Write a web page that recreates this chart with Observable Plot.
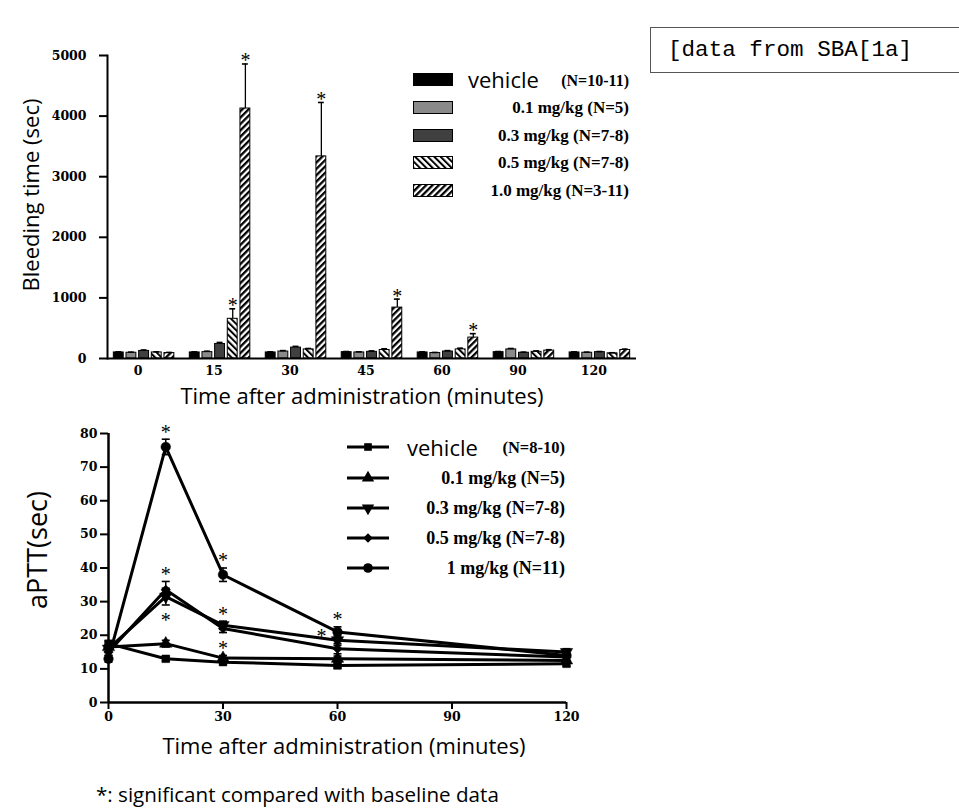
<!DOCTYPE html>
<html>
<head>
<meta charset="utf-8">
<script src="https://cdn.jsdelivr.net/npm/d3@7"></script>
<script src="https://cdn.jsdelivr.net/npm/@observablehq/plot@0.6"></script>
<style>
  body { margin: 0; background: #fff; }
  #page { position: relative; width: 959px; height: 812px; overflow: hidden; background: #fff; }
  .abs { position: absolute; white-space: nowrap; line-height: 1; color: #000; }
  .sans { font-family: "Open Sans", sans-serif; }
  .serifb { font-family: "Liberation Serif", serif; font-weight: bold; }
  .row { position: absolute; display: flex; align-items: center; height: 24px; }
  .row .sp { flex: 1; }
  svg.plot { position: absolute; left: 0; }
</style>
</head>
<body>
<svg width="0" height="0" style="position:absolute">
  <defs>
    <pattern id="hatch05" patternUnits="userSpaceOnUse" width="4.5" height="4.5" patternTransform="rotate(-45)">
      <rect width="4.5" height="4.5" fill="#fff"></rect>
      <rect width="2" height="4.5" fill="#000"></rect>
    </pattern>
    <pattern id="hatch10" patternUnits="userSpaceOnUse" width="4.5" height="4.5" patternTransform="rotate(45)">
      <rect width="4.5" height="4.5" fill="#fff"></rect>
      <rect width="2.3" height="4.5" fill="#000"></rect>
    </pattern>
  </defs>
</svg>
<div id="page"></div>
<script>
// ---------- Top chart: bleeding time ----------
const times = ["0", "15", "30", "45", "60", "90", "120"];
const seriesTop = ["vehicle", "0.1 mg/kg", "0.3 mg/kg", "0.5 mg/kg", "1.0 mg/kg"];
const topLegendLabels = ["(N=10-11)", "0.1 mg/kg (N=5)", "0.3 mg/kg (N=7-8)", "0.5 mg/kg (N=7-8)", "1.0 mg/kg (N=3-11)"];
const topFills = ["#000000", "#8a8a8a", "#404040", "url(#hatch05)", "url(#hatch10)"];

const btVehicle = [100, 100, 100, 105, 100, 105, 100];
const bt01      = [95, 105, 115, 100, 90, 150, 95];
const bt03      = [125, 240, 180, 110, 115, 95, 105];
const bt05      = [100, 655, 150, 140, 150, 110, 85];
const bt10      = [90, 4125, 3335, 840, 345, 130, 140];
const btVehicleErr = [10, 10, 10, 10, 10, 10, 10];
const bt01Err      = [10, 15, 15, 10, 10, 15, 10];
const bt03Err      = [15, 25, 20, 15, 15, 10, 10];
const bt05Err      = [10, 165, 15, 20, 20, 15, 10];
const bt10Err      = [10, 735, 890, 140, 65, 15, 15];
const topStars = [["0.5 mg/kg", "15"], ["1.0 mg/kg", "15"], ["1.0 mg/kg", "30"], ["1.0 mg/kg", "45"], ["1.0 mg/kg", "60"]];
const topYTicks = [0, 1000, 2000, 3000, 4000, 5000];

// ---------- Bottom chart: aPTT ----------
const aTimes = [0, 15, 30, 60, 120];
const seriesBottom = ["vehicle", "0.1 mg/kg", "0.3 mg/kg", "0.5 mg/kg", "1 mg/kg"];
const bottomLegendLabels = ["(N=8-10)", "0.1 mg/kg (N=5)", "0.3 mg/kg (N=7-8)", "0.5 mg/kg (N=7-8)", "1 mg/kg (N=11)"];
const apVehicle = [17.5, 13, 12, 11, 11.5];
const ap01      = [16.5, 17.5, 13.2, 13, 12.5];
const ap03      = [16, 31.5, 23, 18.5, 15];
const ap05      = [15, 33.5, 22, 16, 13.5];
const ap10      = [13, 76, 38, 21, 14];
const apVehicleErr = [0.7, 0.7, 0.7, 0.7, 0.7];
const ap01Err      = [0.8, 1, 0.8, 0.8, 0.8];
const ap03Err      = [1, 2.5, 1.2, 1.5, 1];
const ap05Err      = [1, 2.5, 1.2, 1.5, 1];
const ap10Err      = [1, 2.3, 2, 1.5, 1.5];
const bottomStars = [
  {series: "1 mg/kg", time: 15, side: "above"},
  {series: "0.5 mg/kg", time: 15, side: "above"},
  {series: "0.3 mg/kg", time: 15, side: "below"},
  {series: "1 mg/kg", time: 30, side: "above"},
  {series: "0.3 mg/kg", time: 30, side: "above"},
  {series: "0.1 mg/kg", time: 30, side: "above"},
  {series: "1 mg/kg", time: 60, side: "above"},
  {series: "0.3 mg/kg", time: 60, side: "left"}
];
const aXTicks = [0, 30, 60, 90, 120];
const aYTicks = [0, 10, 20, 30, 40, 50, 60, 70, 80];

// ---------- build ----------
const page = document.getElementById("page");
const key = (t, s) => `${t}|${s}`;
const btValues = [btVehicle, bt01, bt03, bt05, bt10];
const btErrors = [btVehicleErr, bt01Err, bt03Err, bt05Err, bt10Err];
const rowsTop = seriesTop.flatMap((s, si) => times.map((t, ti) => ({
  series: s, time: t, key: key(t, s), value: btValues[si][ti], err: btErrors[si][ti]
})));
const xDomain = times.flatMap((t, i) =>
  seriesTop.map(s => key(t, s)).concat(i < times.length - 1 ? [key(t, "gap")] : []));
const midKeys = times.map(t => key(t, seriesTop[2]));
const starRowsTop = topStars.map(([s, t]) => rowsTop.find(d => d.series === s && d.time === t));
const tickFont = {fontFamily: "DejaVu Serif", fontWeight: "bold", fontSize: 12.5};

const topPlot = Plot.plot({
  width: 660, height: 400,
  marginTop: 55, marginBottom: 42, marginLeft: 107, marginRight: 24,
  style: {background: "transparent", color: "black", overflow: "visible"},
  x: {type: "band", domain: xDomain, paddingInner: 0.22, paddingOuter: 0.5, round: false},
  y: {domain: [0, 5000]},
  color: {domain: seriesTop, range: topFills},
  marks: [
    Plot.barY(rowsTop, {x: "key", y: "value", fill: "series", stroke: "black", strokeWidth: 1}),
    Plot.ruleX(rowsTop, {x: "key", y1: "value", y2: d => d.value + d.err, stroke: "black", strokeWidth: 1.3}),
    Plot.tickY(rowsTop, {x: "key", y: d => d.value + d.err, stroke: "black", strokeWidth: 1.6, insetLeft: 2, insetRight: 2}),
    Plot.text(starRowsTop, {x: "key", y: d => d.value + d.err, text: () => "*", dy: -3, lineAnchor: "middle",
      fontSize: 20, fontFamily: "Liberation Serif", fill: "black"}),
    Plot.ruleY([0], {stroke: "black", strokeWidth: 2}),
    Plot.frame({anchor: "left", stroke: "black", strokeWidth: 2}),
    Plot.axisY({ticks: topYTicks, tickFormat: d => String(d), tickSize: 8, tickPadding: 13, strokeWidth: 2,
      label: null, ...tickFont}),
    Plot.axisX(midKeys, {tickSize: 0, tickPadding: 8, tickFormat: k => k.split("|")[0], dx: -6,
      label: null, ...tickFont})
  ]
});
topPlot.classList.add("plot");
topPlot.style.top = "0px";
page.appendChild(topPlot);

// bottom chart
const apValues = [apVehicle, ap01, ap03, ap05, ap10];
const apErrors = [apVehicleErr, ap01Err, ap03Err, ap05Err, ap10Err];
const rowsB = seriesBottom.flatMap((s, si) => aTimes.map((t, ti) => ({
  series: s, time: t, value: apValues[si][ti], err: apErrors[si][ti]
})));
const triangleDown = {
  draw(context, size) {
    const y = Math.sqrt(size / (Math.sqrt(3) * 3));
    context.moveTo(0, 2 * y);
    context.lineTo(-Math.sqrt(3) * y, -y);
    context.lineTo(Math.sqrt(3) * y, -y);
    context.closePath();
  }
};
const capSymbol = {
  draw(context) { context.moveTo(-4, 0); context.lineTo(4, 0); }
};
const bSymbols = [d3.symbolSquare, d3.symbolTriangle, triangleDown, d3.symbolDiamond2, d3.symbolCircle];
const bSizes = [4.3, 4.6, 4.6, 4.3, 4.8];
const starB = bottomStars.map(st => ({...st, ...rowsB.find(d => d.series === st.series && d.time === st.time)}));

const bottomPlot = Plot.plot({
  width: 600, height: 340,
  marginTop: 33, marginBottom: 38, marginLeft: 108, marginRight: 34,
  style: {background: "transparent", color: "black", overflow: "visible"},
  x: {domain: [0, 120]},
  y: {domain: [0, 80]},
  marks: [
    Plot.line(rowsB, {x: "time", y: "value", z: "series", stroke: "black", strokeWidth: 3}),
    Plot.ruleX(rowsB, {x: "time", y1: d => d.value - d.err, y2: d => d.value + d.err, stroke: "black", strokeWidth: 1.5}),
    Plot.dot(rowsB, {x: "time", y: d => d.value + d.err, symbol: capSymbol, r: 3, fill: "none", stroke: "black", strokeWidth: 1.6}),
    Plot.dot(rowsB, {x: "time", y: d => d.value - d.err, symbol: capSymbol, r: 3, fill: "none", stroke: "black", strokeWidth: 1.6}),
    ...seriesBottom.map((s, i) => Plot.dot(rowsB.filter(d => d.series === s),
      {x: "time", y: "value", symbol: bSymbols[i], r: bSizes[i], fill: "black", stroke: "black", strokeWidth: 0.5})),
    Plot.ruleX([0], {stroke: "black", strokeWidth: 2.5}),
    Plot.ruleY([0], {stroke: "black", strokeWidth: 2.5}),
    Plot.text(starB.filter(d => d.side === "above"), {x: "time", y: d => d.value + d.err, text: () => "*",
      dy: -7, lineAnchor: "middle", fontSize: 20, fontFamily: "Liberation Serif", fill: "black"}),
    Plot.text(starB.filter(d => d.side === "below"), {x: "time", y: d => d.value - d.err, text: () => "*",
      dy: 16, lineAnchor: "middle", fontSize: 20, fontFamily: "Liberation Serif", fill: "black"}),
    Plot.text(starB.filter(d => d.side === "left"), {x: "time", y: "value", text: () => "*",
      dx: -16, dy: -4, lineAnchor: "middle", fontSize: 20, fontFamily: "Liberation Serif", fill: "black"}),
    Plot.axisX({ticks: aXTicks, tickSize: 7, tickPadding: 3, strokeWidth: 2, label: null, ...tickFont}),
    Plot.axisY({ticks: aYTicks, tickSize: 8, tickPadding: 3, strokeWidth: 2, label: null, ...tickFont})
  ]
});
bottomPlot.classList.add("plot");
bottomPlot.style.top = "400px";
page.appendChild(bottomPlot);

// ---------- HTML text: titles, legends, box, footnote ----------
function addText(text, cls, css) {
  const el = document.createElement("div");
  el.className = "abs " + cls;
  el.textContent = text;
  Object.assign(el.style, css);
  page.appendChild(el);
  return el;
}
addText("Bleeding time (sec)", "sans", {left: "30px", top: "195px", fontSize: "22px", transform: "translate(-50%,-50%) rotate(-90deg)"});
addText("Time after administration (minutes)", "sans", {left: "362px", top: "395px", fontSize: "22px", transform: "translate(-50%,-50%)"});
addText("aPTT(sec)", "sans", {left: "36px", top: "550px", fontSize: "27px", transform: "translate(-50%,-50%) rotate(-90deg)"});
addText("Time after administration (minutes)", "sans", {left: "344px", top: "745px", fontSize: "22px", transform: "translate(-50%,-50%)"});
addText("*: significant compared with baseline data", "sans", {left: "96px", top: "784px", fontSize: "20.6px"});

addText("[data from SBA[1a]", "", {left: "650px", top: "27px", width: "320px", height: "46px",
  border: "1px solid #555", boxSizing: "border-box", paddingLeft: "17px", display: "flex", alignItems: "center",
  fontFamily: "Liberation Mono", fontSize: "22.6px"});

// top legend
const topRowsY = [79, 107.5, 135, 162.5, 190];
seriesTop.forEach((s, i) => {
  const row = document.createElement("div");
  row.className = "row";
  Object.assign(row.style, {left: "413px", top: (topRowsY[i] - 12) + "px", width: "216px"});
  const sw = d3.create("svg").attr("width", 40).attr("height", 13);
  sw.append("rect").attr("x", 0.5).attr("y", 0.5).attr("width", 39).attr("height", 12)
    .attr("fill", topFills[i]).attr("stroke", "#000").attr("stroke-width", 1);
  row.appendChild(sw.node());
  if (i === 0) {
    const v = document.createElement("span");
    v.className = "sans"; v.textContent = "vehicle";
    Object.assign(v.style, {fontSize: "22px", marginLeft: "15px", lineHeight: "1"});
    row.appendChild(v);
  }
  const sp = document.createElement("span"); sp.className = "sp"; row.appendChild(sp);
  const lab = document.createElement("span");
  lab.className = "serifb"; lab.textContent = topLegendLabels[i];
  Object.assign(lab.style, {fontSize: i === 0 ? "16px" : "17px", lineHeight: "1", marginTop: i === 0 ? "3px" : "0"});
  row.appendChild(lab);
  page.appendChild(row);
});

// bottom legend
const botRowsY = [447, 478, 508, 538, 568];
const symPx = (i) => Math.PI * bSizes[i] * bSizes[i];
seriesBottom.forEach((s, i) => {
  const row = document.createElement("div");
  row.className = "row";
  Object.assign(row.style, {left: "347px", top: (botRowsY[i] - 12) + "px", width: "218px"});
  const sw = d3.create("svg").attr("width", 42).attr("height", 14).style("overflow", "visible");
  sw.append("line").attr("x1", 0).attr("x2", 42).attr("y1", 7).attr("y2", 7).attr("stroke", "#000").attr("stroke-width", 3);
  sw.append("path").attr("transform", "translate(21,7)").attr("d", d3.symbol(bSymbols[i], symPx(i))()).attr("fill", "#000");
  row.appendChild(sw.node());
  if (i === 0) {
    const v = document.createElement("span");
    v.className = "sans"; v.textContent = "vehicle";
    Object.assign(v.style, {fontSize: "22px", marginLeft: "18px", lineHeight: "1"});
    row.appendChild(v);
  }
  const sp = document.createElement("span"); sp.className = "sp"; row.appendChild(sp);
  const lab = document.createElement("span");
  lab.className = "serifb"; lab.textContent = bottomLegendLabels[i];
  Object.assign(lab.style, {fontSize: i === 0 ? "16.5px" : "18px", lineHeight: "1", marginTop: i === 0 ? "3px" : "0"});
  row.appendChild(lab);
  page.appendChild(row);
});
</script>
</body>
</html>
